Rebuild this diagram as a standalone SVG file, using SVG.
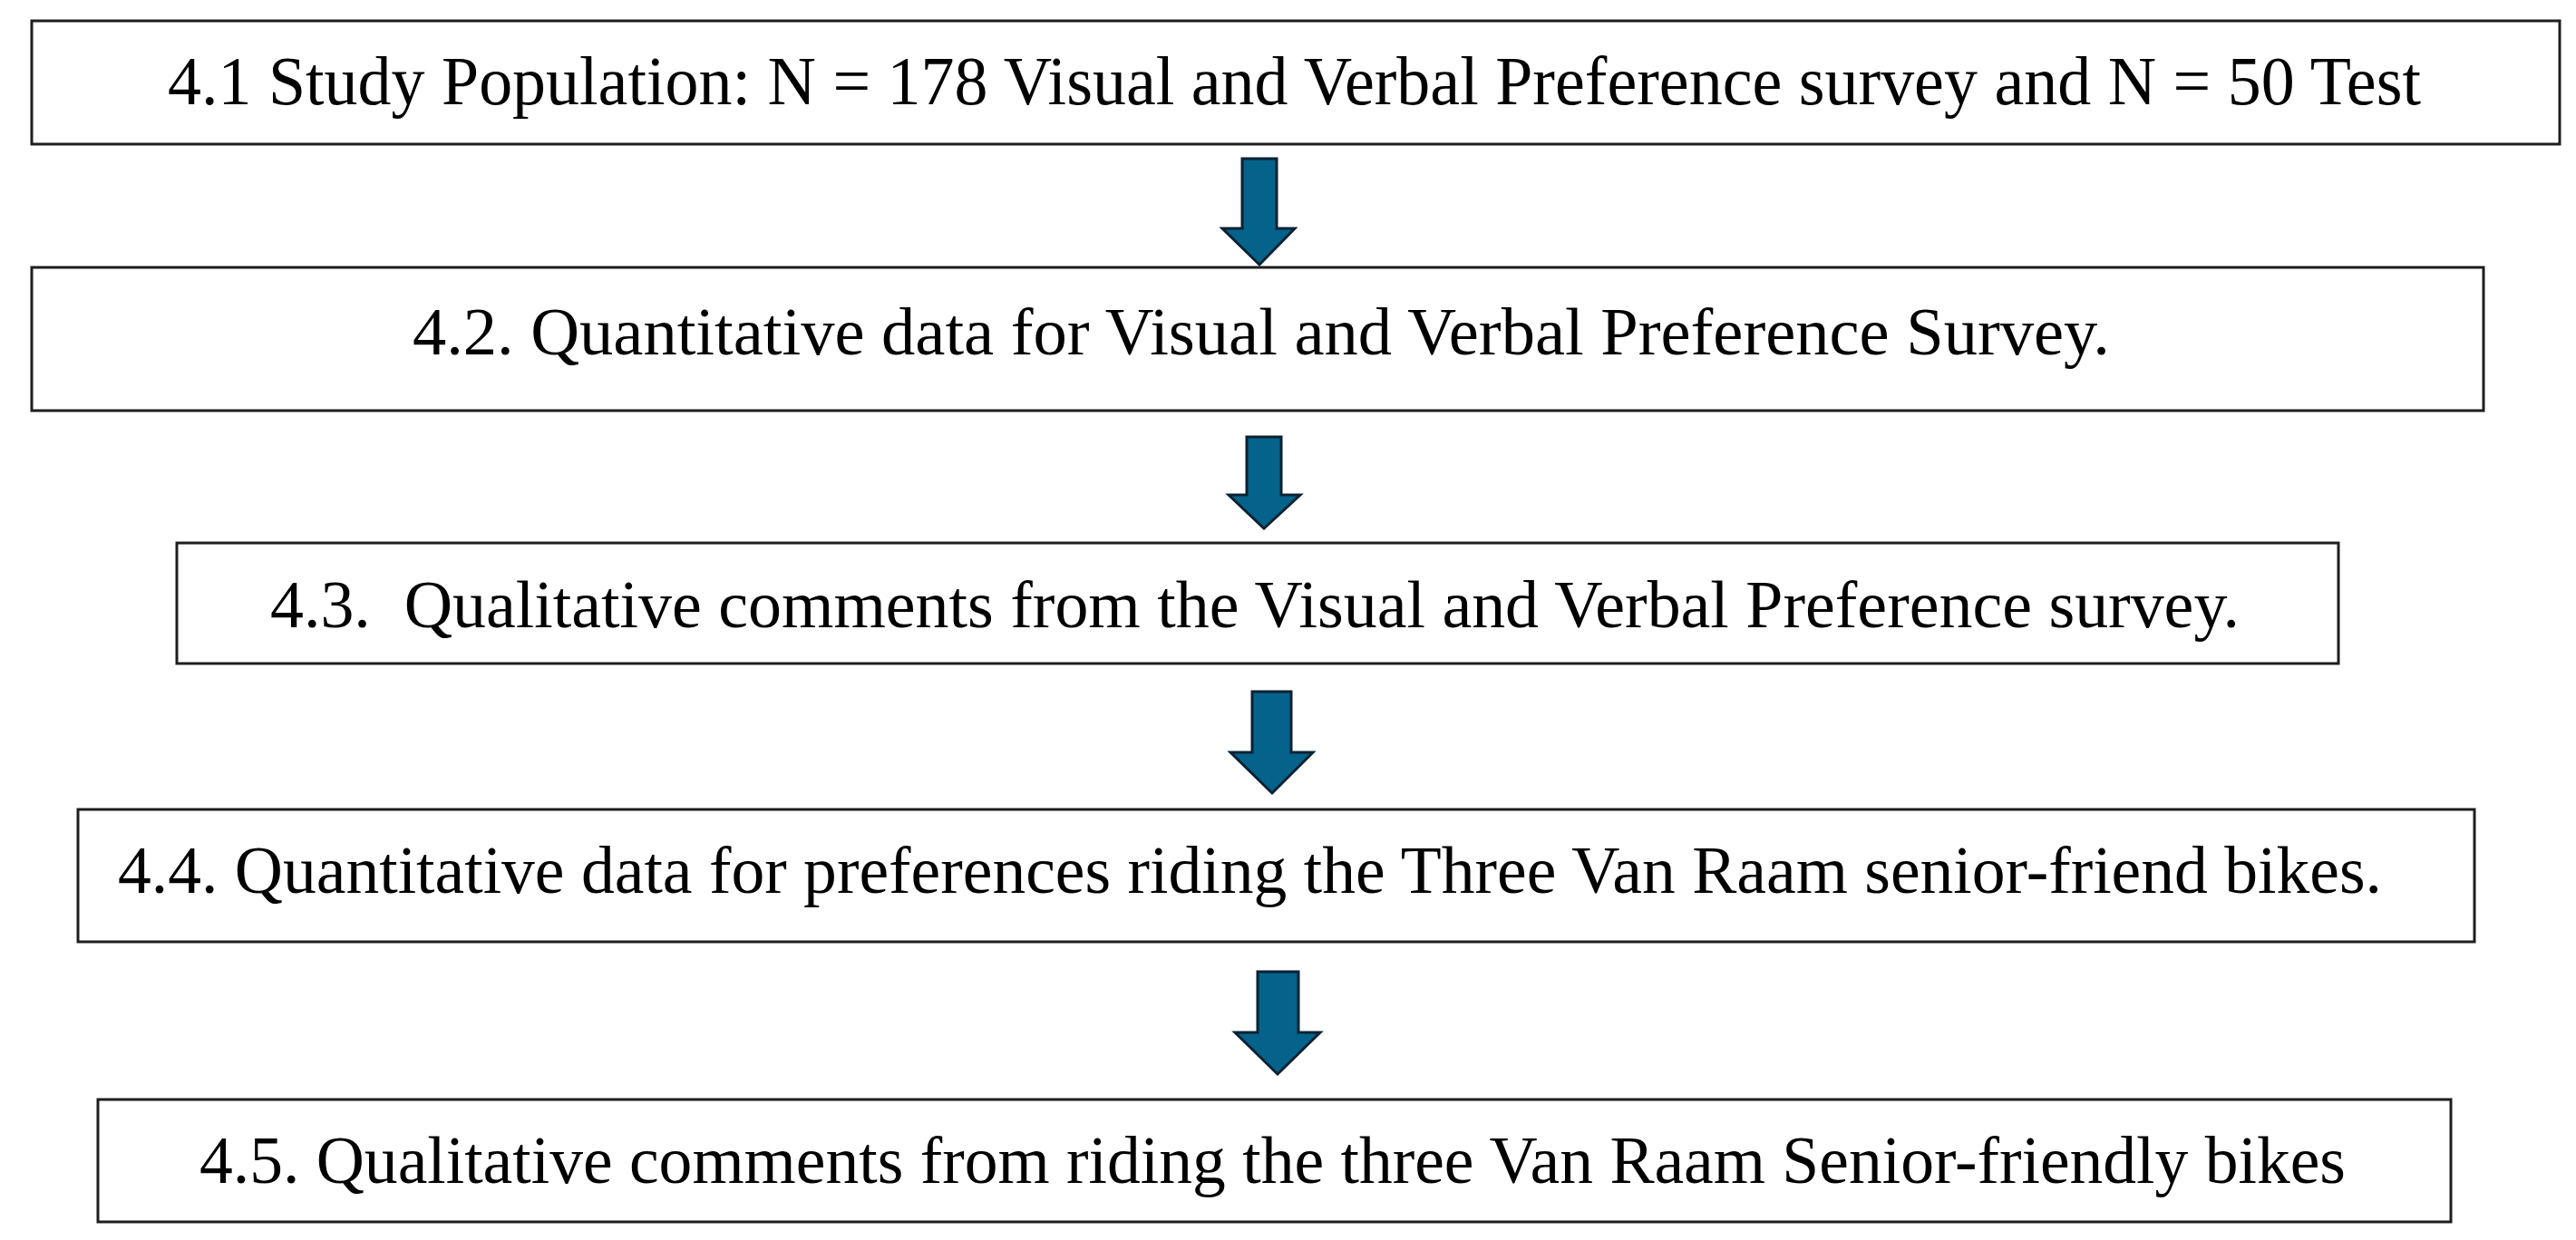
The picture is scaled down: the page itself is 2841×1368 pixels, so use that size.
<svg xmlns="http://www.w3.org/2000/svg" width="2841" height="1368" viewBox="0 0 2841 1368">
<style>
.box{fill:#fff;stroke:#1e1e1e;stroke-width:3}
.t{font-family:"Liberation Serif","Times New Roman",serif;fill:#000;font-size:74px}
.arr{fill:#05628a;stroke:#0b2233;stroke-width:3;stroke-linejoin:miter}
</style>
<rect width="2841" height="1368" fill="#fff"/>
<g id="n1"><rect class="box" x="35" y="23" width="2788" height="136"/><text class="t" x="185" y="115" style="font-size:76px" textLength="2485" lengthAdjust="spacingAndGlyphs">4.1 Study Population: N = 178 Visual and Verbal Preference survey and N = 50 Test</text></g>
<g id="n2"><rect class="box" x="35" y="295" width="2704" height="158"/><text class="t" x="455" y="391" textLength="1872" lengthAdjust="spacingAndGlyphs">4.2. Quantitative data for Visual and Verbal Preference Survey.</text></g>
<g id="n3"><rect class="box" x="195" y="599" width="2384" height="133"/><text class="t" x="298" y="692" textLength="2172" lengthAdjust="spacingAndGlyphs" xml:space="preserve">4.3.  Qualitative comments from the Visual and Verbal Preference survey.</text></g>
<g id="n4"><rect class="box" x="86" y="893" width="2643" height="146"/><text class="t" x="130" y="985" textLength="2497" lengthAdjust="spacingAndGlyphs">4.4. Quantitative data for preferences riding the Three Van Raam senior-friend bikes.</text></g>
<g id="n5"><rect class="box" x="108" y="1213" width="2595" height="135"/><text class="t" x="220" y="1305" textLength="2367" lengthAdjust="spacingAndGlyphs">4.5. Qualitative comments from riding the three Van Raam Senior-friendly bikes</text></g>
<g id="connectors">
<polygon class="arr" points="1370,175 1408,175 1408,252 1428,252 1389,292 1348,252 1370,252"/>
<polygon class="arr" points="1375,482 1413,482 1413,546 1434,546 1394,583 1355,546 1375,546"/>
<polygon class="arr" points="1381,763 1424,763 1424,830 1448,830 1403,875 1357,830 1381,830"/>
<polygon class="arr" points="1387,1072 1432,1072 1432,1139 1456,1139 1409,1185 1362,1139 1387,1139"/>
</g>
</svg>
